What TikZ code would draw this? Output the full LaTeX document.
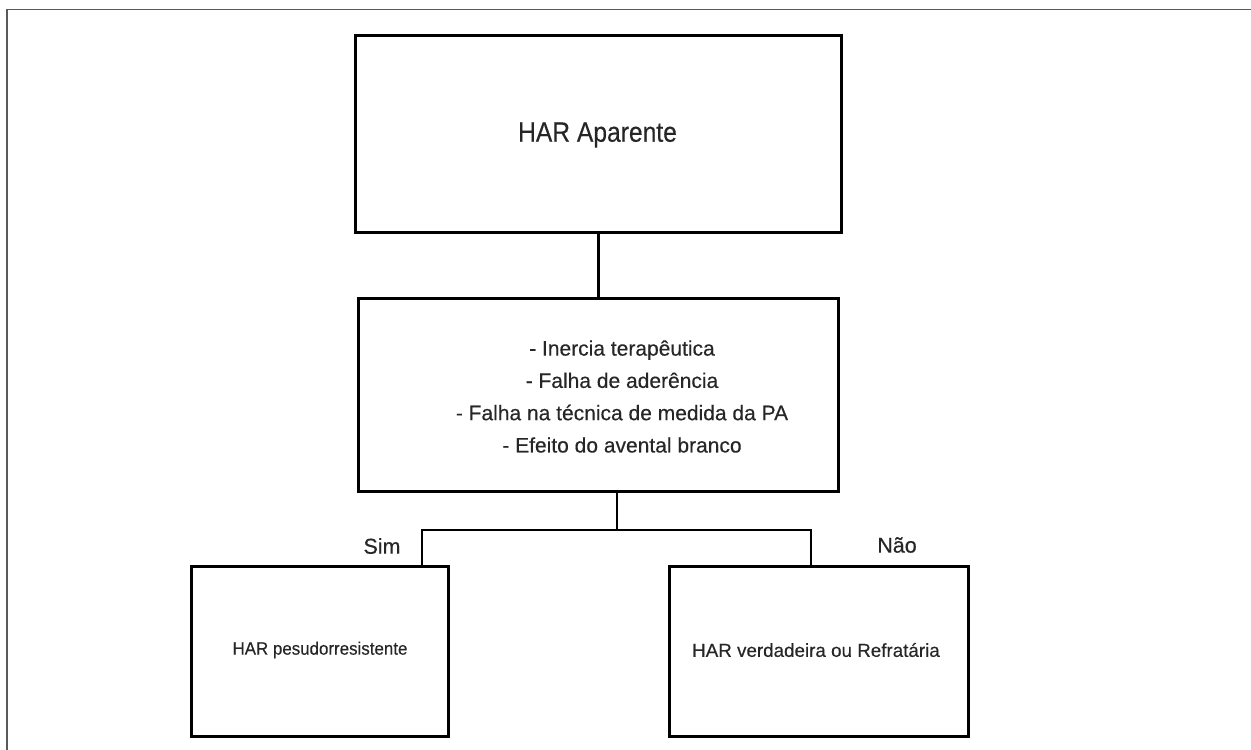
\documentclass[tikz,border=0pt]{standalone}
\usepackage{fontspec}
\setmainfont{Liberation Sans}[FakeBold=0.3]
\newfontfamily\fonttop{Liberation Sans}[FakeStretch=0.88,FakeBold=0.3]
\newfontfamily\fontbl{Liberation Sans}[FakeStretch=0.94,FakeBold=0.3]
\begin{document}
\begin{tikzpicture}[x=1pt,y=-1pt,
  box/.style={draw=black, line width=2.8pt, rectangle, inner sep=0pt},
  txt/.style={text=black!85, inner sep=0pt, align=center},
  conn/.style={draw=black, line width=2.4pt}]
\useasboundingbox (0,0) rectangle (1251,750);
% outer frame (cropped)
\draw[black!65, line width=1.6pt] (7,750) -- (7,9.5) -- (1251,9.5);
% boxes
\node[box, minimum width=486pt, minimum height=197pt] (top) at (598.5,134) {};
\node[txt, font=\fonttop\fontsize{28}{32}\selectfont] (toptxt) at (597.5,135) {HAR Aparente};
\node[box, minimum width=480pt, minimum height=193pt] (mid) at (598.5,395) {};
\node[txt, font=\fontsize{21}{32.3}\selectfont] (midtxt) at (622,396.5)
  {- Inercia terapêutica\\- Falha de aderência\\- Falha na técnica de medida da PA\\- Efeito do avental  branco};
\node[box, minimum width=257pt, minimum height=170pt] (bl) at (320,651.5) {};
\node[txt, font=\fontbl\fontsize{18}{21}\selectfont] (bltxt) at (320,650) {HAR pesudorresistente};
\node[box, minimum width=299pt, minimum height=170pt] (br) at (819,651.5) {};
\node[txt, font=\fontsize{18.8}{21}\selectfont] (brtxt) at (816,650) {HAR verdadeira ou Refratária};
% labels
\node[txt, font=\fontsize{21.5}{24}\selectfont] (sim) at (382,546) {Sim};
\node[txt, font=\fontsize{21.5}{24}\selectfont] (nao) at (897,545) {Não};
% connectors
\coordinate (j) at (617,530);
\coordinate (jl) at (422,530);
\coordinate (jr) at (811,530);
\draw[conn] (top.south) -- (top.south |- mid.north);
\draw[conn] (mid.south -| j) -- (j);
\draw[conn, line join=miter] (bl.north -| jl) -- (jl) -- (jr) -- (br.north -| jr);
\end{tikzpicture}
\end{document}
